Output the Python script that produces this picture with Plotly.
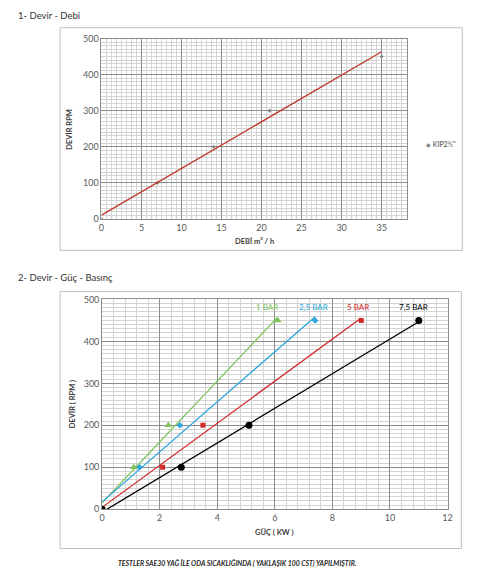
import numpy as np
import plotly.graph_objects as go

# the page body has an 8px margin: draw a figure that fits the visible window
OFF = 8
W, H = 486 - OFF, 580 - OFF

# ---------------- data ----------------
# Chart 1: Devir - Debi
debi = [0, 7, 14, 21, 35]
devir1 = [0, 100, 200, 300, 450]
legend1 = "KIP2½''"

# Chart 2: Devir - Güç - Basınç
guc_1bar = [0, 1.1, 2.3, 6.1]
guc_25bar = [0, 1.3, 2.7, 7.4]
guc_5bar = [0, 2.1, 3.5, 9.0]
guc_75bar = [0, 2.75, 5.1, 11.0]
devir2 = [0, 100, 200, 450]
series_names = ["1 BAR", "2,5 BAR", "5 BAR", "7,5 BAR"]

x_ticks1 = [0, 5, 10, 15, 20, 25, 30, 35]
y_ticks = [0, 100, 200, 300, 400, 500]
x_ticks2 = [0, 2, 4, 6, 8, 10, 12]


# ---------------- helpers (window pixel -> paper) ----------------
def px(x):
    return (x - OFF) / W


def py(y):
    return 1 - (y - OFF) / H


FONT = "Lato, 'Open Sans', sans-serif"
TICK_FONT = dict(family=FONT, size=9, color="#595959")
MAJOR = "#8c8c8c"
MINOR = "#d4d4d4"

fig = go.Figure()

# ---------- chart 1 ----------
fig.add_trace(go.Scatter(
    x=debi, y=devir1, mode="markers", name=legend1,
    marker=dict(symbol="diamond", size=3, color="#7f7f7f"),
    xaxis="x", yaxis="y", showlegend=False))
m, b = np.polyfit(debi, devir1, 1)
xl = [min(debi), max(debi)]
fig.add_trace(go.Scatter(
    x=xl, y=[m * v + b for v in xl], mode="lines",
    line=dict(color="#c0392b", width=1.3),
    xaxis="x", yaxis="y", showlegend=False, hoverinfo="skip"))

# ---------- chart 2 ----------
styles = [
    ("#7fc35a", "triangle-up", 7),
    ("#2aa6dc", "diamond", 5),
    ("#d42a2a", "square", 5),
    ("#000000", "circle", 7),
]
label_dx = [-0.36, -0.05, -0.1, -0.2]
for gx, name, (col, sym, sz), dx in zip(
        [guc_1bar, guc_25bar, guc_5bar, guc_75bar], series_names, styles, label_dx):
    m2, b2 = np.polyfit(gx, devir2, 1)
    xl2 = [min(gx), max(gx)]
    fig.add_trace(go.Scatter(
        x=xl2, y=[m2 * v + b2 for v in xl2], mode="lines",
        line=dict(color=col, width=1.3),
        xaxis="x2", yaxis="y2", showlegend=False, hoverinfo="skip"))
    fig.add_trace(go.Scatter(
        x=gx, y=devir2, mode="markers", name=name,
        marker=dict(symbol=sym, size=sz, color=col),
        xaxis="x2", yaxis="y2", showlegend=False))
    fig.add_annotation(
        x=gx[-1] + dx, y=devir2[-1], xref="x2", yref="y2",
        text=name, showarrow=False, yshift=13,
        font=dict(family=FONT, size=8, color=col))

common_axis = dict(
    showline=True, linecolor=MAJOR, linewidth=1, mirror=True,
    showgrid=True, gridcolor=MAJOR, gridwidth=0.8,
    zeroline=False, ticks="", tickfont=TICK_FONT, fixedrange=True,
)

fig.update_layout(
    width=W, height=H,
    margin=dict(l=0, r=0, t=0, b=0),
    paper_bgcolor="white", plot_bgcolor="white",
    font=dict(family=FONT),
    showlegend=False,
    xaxis=dict(domain=[px(100), px(411)], range=[0, 38.2],
               tickvals=x_ticks1, anchor="y",
               minor=dict(dtick=0.625, tick0=0, showgrid=True, gridcolor=MINOR, gridwidth=0.6),
               **common_axis),
    yaxis=dict(domain=[py(217), py(33)], range=[0, 500],
               tickvals=y_ticks, anchor="x",
               minor=dict(dtick=10, tick0=0, showgrid=True, gridcolor=MINOR, gridwidth=0.6),
               **common_axis),
    xaxis2=dict(domain=[px(100.7), px(452)], range=[0, 12],
                tickvals=x_ticks2, anchor="y2",
                minor=dict(dtick=0.4, tick0=0, showgrid=True, gridcolor=MINOR, gridwidth=0.6),
                **common_axis),
    yaxis2=dict(domain=[py(513), py(299)], range=[0, 500],
                tickvals=y_ticks, anchor="x2",
                minor=dict(dtick=10, tick0=0, showgrid=True, gridcolor=MINOR, gridwidth=0.6),
                **common_axis),
    shapes=[
        dict(type="rect", xref="paper", yref="paper",
             x0=px(58), x1=px(467), y0=py(249), y1=py(22),
             line=dict(color="#bfbfbf", width=1)),
        dict(type="rect", xref="paper", yref="paper",
             x0=px(58), x1=px(466), y0=py(553), y1=py(291),
             line=dict(color="#bfbfbf", width=1)),
    ],
)

texts = [
    dict(x=px(13), y=py(10), text="1- Devir - Debi", size=9.5, bold=False, italic=False,
         xanchor="left", textangle=0, color="#333333"),
    dict(x=px(13), y=py(277), text="2- Devir - Güç - Basınç", size=9.5, bold=False, italic=False,
         xanchor="left", textangle=0, color="#333333"),
    dict(x=px(68), y=py(125), text="DEVİR RPM", size=7.5, bold=True, italic=False,
         xanchor="center", textangle=-90, color="#404040"),
    dict(x=px(256), y=py(240), text="DEBİ m³ / h", size=7.5, bold=True, italic=False,
         xanchor="center", textangle=0, color="#404040"),
    dict(x=px(70), y=py(406), text="DEVİR ( RPM )", size=7.5, bold=True, italic=False,
         xanchor="center", textangle=-90, color="#404040"),
    dict(x=px(276), y=py(537), text="GÜÇ ( KW )", size=7.5, bold=True, italic=False,
         xanchor="center", textangle=0, color="#404040"),
    dict(x=px(238), y=py(568),
         text="TESTLER SAE30 YAĞ İLE ODA SICAKLIĞINDA ( YAKLAŞIK 100 CST) YAPILMIŞTIR.",
         size=6.9, bold=True, italic=True, xanchor="center", textangle=0, color="#262626"),
]
for t in texts:
    s = t["text"]
    if t["bold"]:
        s = "<b>" + s + "</b>"
    if t["italic"]:
        s = "<i>" + s + "</i>"
    fig.add_annotation(x=t["x"], y=t["y"], xref="paper", yref="paper", text=s,
                       showarrow=False, xanchor=t["xanchor"], yanchor="middle",
                       textangle=t["textangle"],
                       font=dict(family=FONT, size=t["size"], color=t["color"]))

# legend of chart 1 (small grey marker + series name)
fig.add_annotation(
    x=px(428), y=py(141), xref="paper", yref="paper", xanchor="left", yanchor="middle",
    showarrow=False,
    text="<span style='color:#7f7f7f;font-size:6px'>◆</span> " + legend1,
    font=dict(family=FONT, size=7, color="#404040"))

fig.write_html("out.html")
